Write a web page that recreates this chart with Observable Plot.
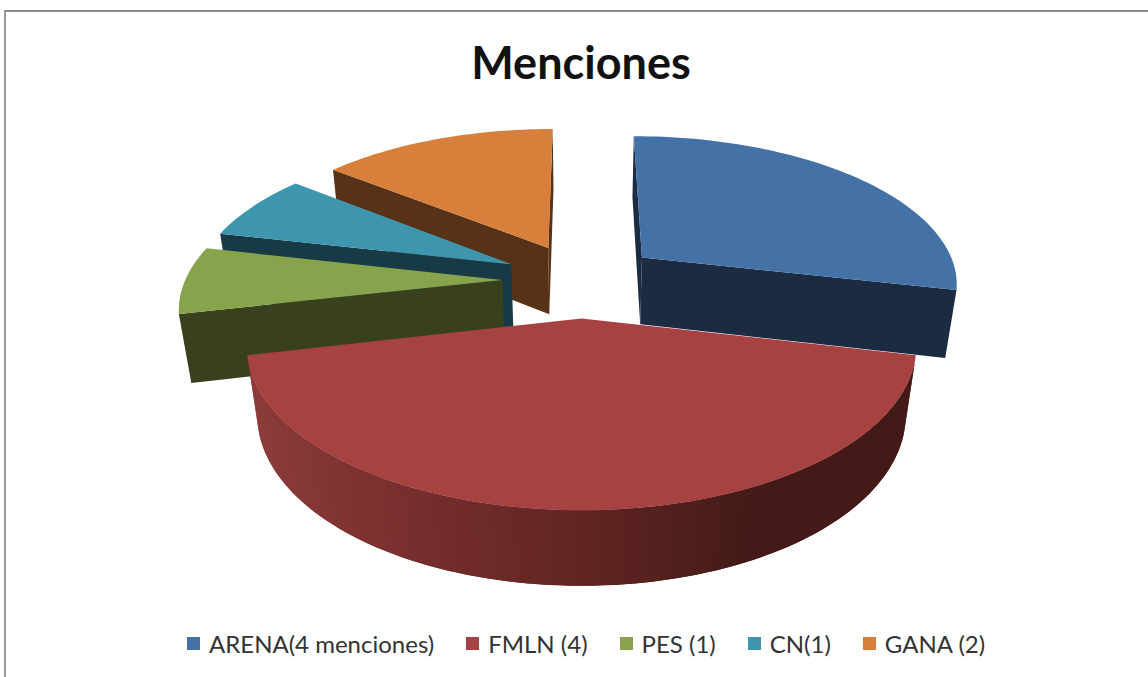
<!DOCTYPE html>
<html><head><meta charset="utf-8">
<script src="https://cdn.jsdelivr.net/npm/d3@7"></script>
<script src="https://cdn.jsdelivr.net/npm/@observablehq/plot@0.6"></script>
<style>
html,body{margin:0;padding:0;background:#fff;overflow:hidden}
#page{width:1142px;height:665px;margin:10px 0 0 4px;border-top:2px solid #8a8a8a;border-left:2px solid #9a9a9a;position:relative;font-family:Lato,"Open Sans",sans-serif;color:#111}
#title{height:88px;line-height:101px;text-align:center;font-size:45px;font-weight:700;padding-left:8px;box-sizing:border-box}
#chart svg{display:block}
#legend{position:absolute;top:619px;left:181px;display:flex;align-items:center;font-size:24px;color:#333;white-space:nowrap;height:24px}
#legend span.s{display:inline-block;width:13px;height:13px;margin-right:9px}
#legend .i{display:flex;align-items:center;margin-right:32px}
</style></head><body>
<div id="page"><div id="title">Menciones</div><div id="chart"></div><div id="legend"></div></div>
<script>
// Data
const labels = ["ARENA(4 menciones)", "FMLN (4)", "PES (1)", "CN(1)", "GANA (2)"];
const values = [4, 6, 1, 1, 2];
const topColors = ["#4471a6", "#a64241", "#87a44c", "#3e96ae", "#d77f3b"];
const wallColors = ["#1a2b42", "#431a17", "#38401d", "#183a47", "#583216"];
const paintOrder = [4, 3, 2, 0, 1];

// 3D pie model, unit radius
const explode = 0.25, depthK = 0.16, depthM = 0.14, tilt = 0.465, thick = 0.22;
const pxPerUnit = 317, W = 1142, H = 520, cx = 575, cy = 179.5;
const total = d3.sum(values);
const cum = d3.cumsum(values);
const ang = v => v / total * 2 * Math.PI;

function proj(X, Y, Z) {
  const s = 1 / (1 - depthK * Y - depthM * Z);
  return [X * s, (tilt * Y - Z) * s];
}
const wallGrad = d3.scaleLinear()
  .domain([-1, -0.5, 0, 0.45, 1])
  .range(["#8f3e3b", "#7a302e", "#612523", "#431a17", "#431a17"])
  .interpolate(d3.interpolateRgb);

const rows = [];
let id = 0;
function poly(pts, color) {
  id++;
  pts.forEach(p => rows.push({x: p[0], y: p[1], id, color}));
}
function face(pts, color) {
  let a = 0;
  pts.forEach((p, i) => { const q = pts[(i + 1) % pts.length]; a += p[0] * q[1] - q[0] * p[1]; });
  if (a < 0) poly(pts, color);
}
for (const i of paintOrder) {
  const a0 = ang(cum[i] - values[i]), a1 = ang(cum[i]), mid = (a0 + a1) / 2;
  const ox = explode * Math.sin(mid), oy = -explode * Math.cos(mid);
  const P = (a, r, z) => proj(ox + r * Math.sin(a), oy - r * Math.cos(a), z);
  face([P(a0, 0, 0), P(a0, 1, 0), P(a0, 1, -thick), P(a0, 0, -thick)], wallColors[i]);
  face([P(a1, 1, 0), P(a1, 0, 0), P(a1, 0, -thick), P(a1, 1, -thick)], wallColors[i]);
  const n = Math.max(8, Math.round(values[i] * 16));
  const arc = d3.range(n + 1).map(k => a0 + (a1 - a0) * k / n);
  for (let k = 0; k < n; k++) {
    const m = (arc[k] + arc[k + 1]) / 2;
    const c = i === 1 ? wallGrad(Math.sin(m)) : wallColors[i];
    // each band runs under the next one, so no seam shows between them
    const e = arc[Math.min(k + 2, n)];
    const band = [P(arc[k], 1, 0)];
    const stepA = arc[k + 1];
    if (e !== stepA) band.push(P(stepA, 1, 0));
    band.push(P(e, 1, 0), P(e, 1, -thick));
    if (e !== stepA) band.push(P(stepA, 1, -thick));
    band.push(P(arc[k], 1, -thick));
    face(band, c);
  }
  poly([P(a0, 0, 0), ...arc.map(a => P(a, 1, 0))], topColors[i]);
}

const plot = Plot.plot({
  width: W, height: H, margin: 0, axis: null,
  x: {domain: [-cx / pxPerUnit, (W - cx) / pxPerUnit], range: [0, W]},
  y: {domain: [-cy / pxPerUnit, (H - cy) / pxPerUnit], range: [0, H]},
  color: {type: "identity"},
  style: {background: "transparent"},
  marks: [
    Plot.line(rows, {x: "x", y: "y", z: "id", fill: "color", curve: "linear-closed", stroke: null})
  ]
});
document.getElementById("chart").appendChild(plot);

const lg = document.getElementById("legend");
labels.forEach((t, i) => {
  const d = document.createElement("div"); d.className = "i";
  const s = document.createElement("span"); s.className = "s"; s.style.background = topColors[i];
  const l = document.createElement("span"); l.textContent = t;
  d.append(s, l); lg.appendChild(d);
});
</script>
</body></html>
